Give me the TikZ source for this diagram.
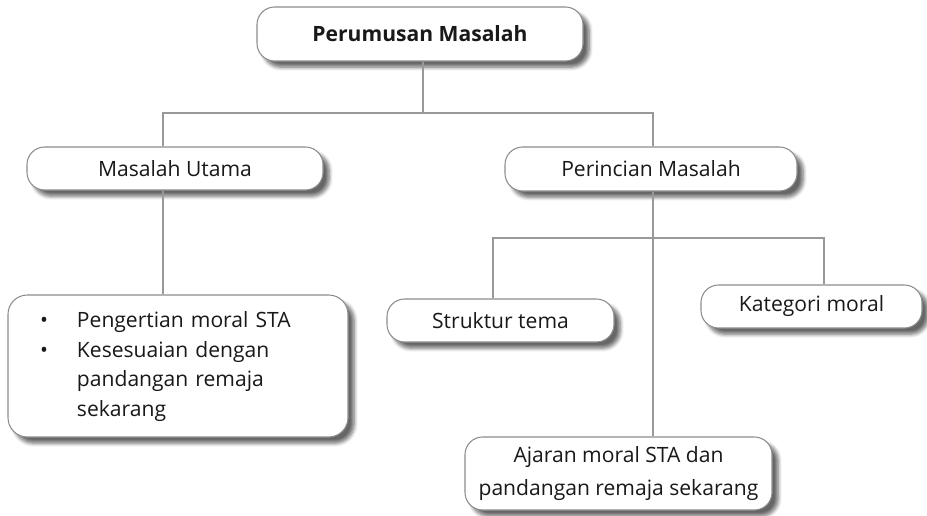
\documentclass[tikz,border=0pt]{standalone}
\usepackage{fontspec}
\setmainfont{Open Sans}
\usetikzlibrary{shadows.blur}

\newcommand\pu{0.02cm}

\tikzset{
  kotak/.style={draw=black!45, line width=0.6pt, fill=white, rounded corners=10pt,
    blur shadow={shadow xshift=3.5pt, shadow yshift=-3.5pt, shadow blur steps=6, shadow opacity=60},
    align=center, inner sep=0pt, text=black!90, font=\fontsize{12}{17}\selectfont},
  garis/.style={draw=black!40, line width=1.4pt}
}

\begin{document}
\begin{tikzpicture}[x=\pu, y=-\pu]
  \useasboundingbox (0,0) rectangle (927,515);

  \node[kotak, minimum width=326*\pu, minimum height=54*\pu,
        font=\bfseries\fontsize{12}{17}\selectfont] (top) at (420,34) {Perumusan Masalah};

  \foreach \pos/\name/\lebar/\tinggi/\txt in {{(175,168.5)/utama/296/43/Masalah Utama},
      {(651,169)/rincian/292/44/Perincian Masalah},
      {(500.5,320.5)/struktur/227/43/Struktur tema},
      {(811.5,306.5)/kategori/221/43/Kategori moral}}
    \node[kotak, minimum width=\lebar*\pu, minimum height=\tinggi*\pu] (\name) at \pos {\txt};

  \node[kotak, rounded corners=11pt, text width=276*\pu, inner xsep=32*\pu, align=left,
        minimum height=142*\pu] (daftar) at (178,366)
    {\begin{tabular}{@{}p{0.74cm}@{}l@{}}
       \textbullet & Pengertian moral STA\\
       \textbullet & Kesesuaian dengan\\
                   & pandangan remaja\\
                   & sekarang
     \end{tabular}};

  \node[kotak, minimum width=307*\pu, minimum height=73*\pu,
        font=\fontsize{12}{18.5}\selectfont] (ajaran) at (618.5,473.5)
    {Ajaran moral STA dan\\pandangan remaja sekarang};

  % titik cabang
  \coordinate (bar1) at (423,113);
  \coordinate (kiri) at (163,113);
  \coordinate (kanan) at (653,113);
  \coordinate (kiri2) at (493,238);
  \coordinate (kanan2) at (824,238);

  \draw[garis] (bar1 |- top.south) -- (bar1);
  \draw[garis] (kiri |- utama.north) -- (kiri) -- (kanan) -- (kanan |- rincian.north);
  \draw[garis] (kiri |- utama.south) -- (kiri |- daftar.north);
  \draw[garis] (kanan |- rincian.south) -- (kanan |- ajaran.north);
  \draw[garis] (kiri2 |- struktur.north) -- (kiri2) -- (kanan2) -- (kanan2 |- kategori.north);
\end{tikzpicture}
\end{document}
